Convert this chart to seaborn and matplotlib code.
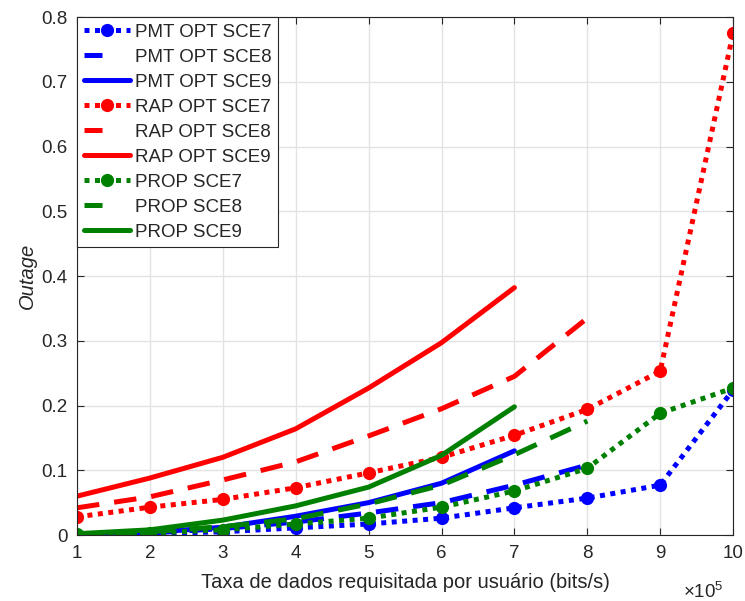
import matplotlib
matplotlib.use("Agg")
import matplotlib.pyplot as plt
import seaborn as sns
import numpy as np
import pandas as pd
from matplotlib.ticker import FuncFormatter, MultipleLocator

# Requested data rate per user (bits/s)
taxa = [1e5, 2e5, 3e5, 4e5, 5e5, 6e5, 7e5, 8e5, 9e5, 10e5]

# Outage per scheme and scenario
pmt_sce7 = [0.000, 0.002, 0.005, 0.011, 0.017, 0.026, 0.042, 0.057, 0.077, 0.224]
pmt_sce8 = [0.000, 0.003, 0.010, 0.020, 0.034, 0.050, 0.077, 0.108]
pmt_sce9 = [0.001, 0.004, 0.012, 0.029, 0.050, 0.080, 0.130]
rap_sce7 = [0.028, 0.043, 0.055, 0.073, 0.096, 0.120, 0.154, 0.194, 0.253, 0.775]
rap_sce8 = [0.042, 0.059, 0.085, 0.113, 0.153, 0.195, 0.245, 0.335]
rap_sce9 = [0.060, 0.088, 0.120, 0.164, 0.227, 0.297, 0.382]
prop_sce7 = [0.001, 0.003, 0.008, 0.017, 0.026, 0.043, 0.068, 0.103, 0.188, 0.227]
prop_sce8 = [0.001, 0.005, 0.013, 0.025, 0.048, 0.077, 0.124, 0.176]
prop_sce9 = [0.002, 0.008, 0.023, 0.045, 0.074, 0.123, 0.198]

labels = ["PMT OPT SCE7", "PMT OPT SCE8", "PMT OPT SCE9",
          "RAP OPT SCE7", "RAP OPT SCE8", "RAP OPT SCE9",
          "PROP SCE7", "PROP SCE8", "PROP SCE9"]
series = [pmt_sce7, pmt_sce8, pmt_sce9, rap_sce7, rap_sce8, rap_sce9,
          prop_sce7, prop_sce8, prop_sce9]

sns.set_theme(style="white")
plt.rcParams['font.family'] = ['Liberation Sans', 'DejaVu Sans']
plt.rcParams['mathtext.fontset'] = 'custom'
plt.rcParams['mathtext.rm'] = 'Liberation Sans'

colors = {"PMT": "#0000ff", "RAP": "#ff0000", "PROP": "#008000"}
dotted = (0, (1, 1.1))
dashed = (0, (4.5, 3.0))
ink = "#262626"

fig = plt.figure(figsize=(7.45, 6.01), dpi=100)
ax = fig.add_axes([0.1034, 0.1098, 0.8806, 0.8619])

for lab, vals in zip(labels, series):
    scheme = lab.split()[0]
    c = colors[scheme]
    df = pd.DataFrame({"taxa": taxa[:len(vals)], "outage": vals})
    if lab.endswith("SCE7"):
        sns.lineplot(data=df, x="taxa", y="outage", ax=ax, color=c, linewidth=3.6,
                     linestyle=dotted, marker="o", markersize=9.5, markeredgewidth=0,
                     label=lab, dash_capstyle="butt")
    elif lab.endswith("SCE8"):
        sns.lineplot(data=df, x="taxa", y="outage", ax=ax, color=c, linewidth=3.6,
                     linestyle=dashed, label=lab, dash_capstyle="butt")
    else:
        sns.lineplot(data=df, x="taxa", y="outage", ax=ax, color=c, linewidth=3.6,
                     label=lab)

ax.set_xlim(1e5, 10e5)
ax.set_ylim(0, 0.8)
ax.xaxis.set_major_locator(MultipleLocator(1e5))
ax.yaxis.set_major_locator(MultipleLocator(0.1))
ax.xaxis.set_major_formatter(FuncFormatter(lambda v, p: "%g" % round(v / 1e5, 3)))
ax.yaxis.set_major_formatter(FuncFormatter(lambda v, p: "%g" % round(v, 2)))

ax.grid(True, color="#e3e3e3", linewidth=1.0)
ax.set_axisbelow(True)
for s in ax.spines.values():
    s.set_color(ink)
    s.set_linewidth(0.8)
    s.set_visible(True)
ax.tick_params(direction="in", length=5, width=0.8, colors=ink,
               labelsize=13.5, top=True, right=True, bottom=True, left=True, pad=7)

# axis exponent, placed under the right end of the x axis
ax.text(0.955, -0.11, r"$\times10^{5}$", transform=ax.transAxes, fontsize=13.5,
        color=ink, ha="center", va="center")

ax.set_xlabel("Taxa de dados requisitada por usuário (bits/s)", fontsize=14.5,
              color=ink, labelpad=8)
ax.set_ylabel("Outage", fontsize=14.5, style="italic", color=ink, labelpad=3)

leg = ax.legend(loc="upper left", fontsize=13.5, frameon=True, fancybox=False,
                edgecolor=ink, framealpha=1, handlelength=2.5,
                handletextpad=0.25, labelspacing=0.42, borderaxespad=0.0,
                borderpad=0.35)
leg.get_frame().set_linewidth(0.8)
# single short dash for the dashed entries in the key
for h, lab in zip(leg.get_lines(), labels):
    if lab.endswith("SCE8"):
        h.set_dashes((3.6, 20))

fig.savefig("out.png", dpi=100)
